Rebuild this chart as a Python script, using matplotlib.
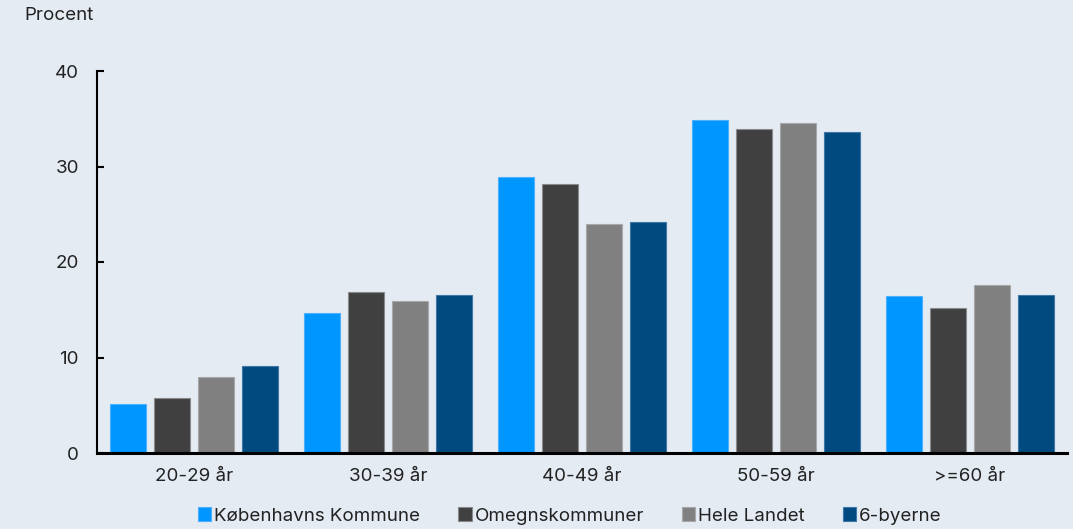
import matplotlib.pyplot as plt
import numpy as np

categories = ['20-29 år', '30-39 år', '40-49 år', '50-59 år', '>=60 år']
series_names = ['Københavns Kommune', 'Omegnskommuner', 'Hele Landet', '6-byerne']
kbh = [5.1, 14.7, 28.9, 34.9, 16.4]
omegn = [5.8, 16.9, 28.2, 33.9, 15.2]
hele_landet = [8.0, 15.9, 24.0, 34.6, 17.6]
seks_byerne = [9.1, 16.5, 24.2, 33.6, 16.5]
colors = ['#0096FF', '#404040', '#808080', '#004A80']
edge_colors = ['#4DB0FF', '#8A8A8A', '#A8A8A8', '#3F77A6']

bg = '#E4EBF3'
plt.rcParams['font.family'] = ['Inter', 'DejaVu Sans']
fs = 13.5

fig = plt.figure(figsize=(10.73, 5.29), dpi=100, facecolor=bg)
ax = fig.add_axes([97 / 1073, 76 / 529, 970 / 1073, 382 / 529], facecolor=bg)

x = np.arange(len(categories))
step = 0.227
width = 0.183
all_series = [kbh, omegn, hele_landet, seks_byerne]
for i, (name, vals) in enumerate(zip(series_names, all_series)):
    ax.bar(x + (i - 1.5) * step, vals, width, color=colors[i],
           edgecolor=edge_colors[i], linewidth=0.8, label=name, zorder=2)

ax.set_xlim(-0.5, 4.5)
ax.set_ylim(0, 40)
ax.set_yticks([0, 10, 20, 30, 40])
ax.set_xticks(x)
ax.set_xticklabels(categories)
ax.tick_params(axis='y', direction='in', length=5, width=1.5, labelsize=fs,
               pad=13, colors='black', labelcolor='#222222')
ax.tick_params(axis='x', length=0, labelsize=fs, pad=11, labelcolor='#222222')

for side in ['top', 'right']:
    ax.spines[side].set_visible(False)
ax.spines['left'].set_linewidth(1.5)
ax.spines['bottom'].set_linewidth(2.2)

fig.text(24 / 1073, 1 - 15 / 529, 'Procent', fontsize=fs, color='#222222',
         va='center', ha='left')

fig.legend(loc='center', bbox_to_anchor=(570 / 1073, 1 - 516 / 529), ncol=4,
           frameon=False, fontsize=fs, handlelength=0.7, handleheight=0.7,
           handletextpad=0.15, columnspacing=2.05, labelcolor='#222222')

fig.savefig('out.png', dpi=100, facecolor=bg)
